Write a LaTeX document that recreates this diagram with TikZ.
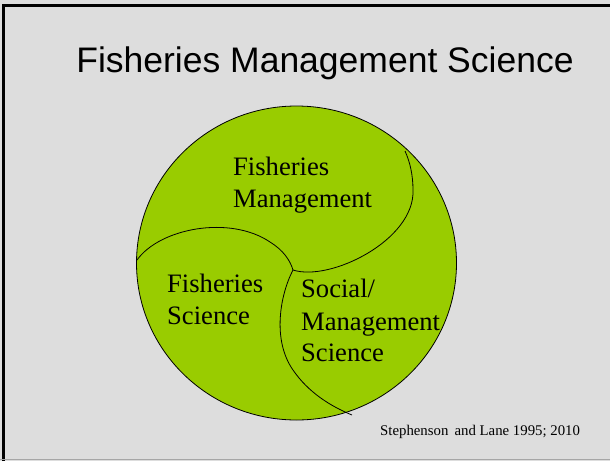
\documentclass[tikz,border=0pt]{standalone}
\usepackage{fontspec}
\setmainfont{Liberation Serif}
\newfontfamily\titlefont{Liberation Sans}
\usepackage{tikz}
\usetikzlibrary{positioning}
\definecolor{slideGray}{RGB}{221,221,221}
\definecolor{leafGreen}{RGB}{153,204,0}

\begin{document}
\begin{tikzpicture}[
  x=1pt, y=-1pt,
  lbl/.style={font=\fontsize{26.6}{32}\selectfont, anchor=base west,
              inner sep=0pt, text=black},
  seam/.style={draw=black, line width=0.8pt},
]

% ---- slide ground and frame ----------------------------------------------
\fill[slideGray] (0,0) rectangle (610,461);
\useasboundingbox (0,0) rectangle (610,461);
\draw[black, line width=3pt] (3.8,461) -- (3.8,5.3) -- (610,5.3);
\draw[gray!70, line width=1pt] (0,459.5) -- (610,459.5);

\node[font=\titlefont\fontsize{35.5}{42}\selectfont, anchor=base,
      inner sep=0pt] (title) at (325,72) {Fisheries Management Science};

% ---- the disc and its three seams ------------------------------------------
\draw[fill=leafGreen, draw=black, line width=0.8pt]
  (296.5,263) ellipse (160 and 157);
\coordinate (hub) at (293,270);

\draw[seam] (hub) .. controls (330,282) and (415,240) .. (413,190)
  .. controls (413,175) and (410,162) .. (405,151);
\draw[seam] (137,260) .. controls (160,228) and (230,215) .. (270,242)
  .. controls (283,250) and (290,260) .. (hub);
\draw[seam] (hub) .. controls (280,295) and (272,340) .. (293,370)
  .. controls (308,392) and (330,406) .. (352,415);

% ---- labels ----------------------------------------------------------------
\node[lbl] (fm1) at (233,175) {Fisheries};
\node[lbl] (fm2) at (233,207) {Management};

\node[lbl] (fs1) at (167,292) {Fisheries};
\node[lbl] (fs2) at (167,324) {Science};

\node[lbl] (sm1) at (301,297) {Social/};
\node[lbl] (sm2) at (301,330) {Management};
\node[lbl] (sm3) at (301,361) {Science};

\node[font=\fontsize{14.8}{17}\selectfont, anchor=base west, inner sep=0pt]
  (cite) at (380,435) {Stephenson\hspace{2.5pt} and Lane 1995; 2010};

\end{tikzpicture}
\end{document}
